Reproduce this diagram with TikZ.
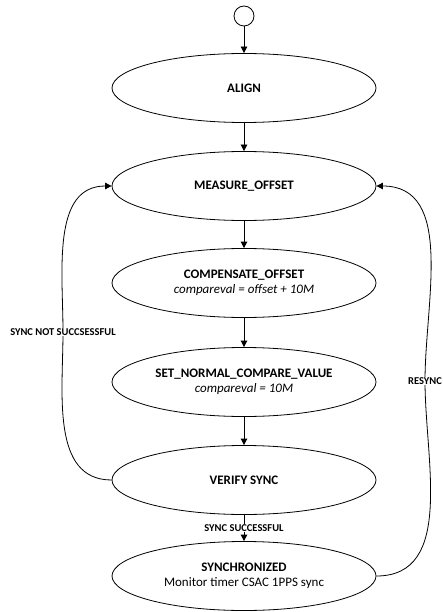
\documentclass[tikz,border=0pt]{standalone}
\usepackage{fontspec}
\setmainfont{Carlito}
\usetikzlibrary{shapes.geometric,arrows.meta}
\begin{document}
\begin{tikzpicture}[x=1pt,y=-1pt,
  state/.style={draw,line width=0.8pt,ellipse,minimum width=264pt,minimum height=69pt,
    inner sep=0pt,align=center,font=\fontsize{13}{15.5}\selectfont},
  flow/.style={draw,line width=0.8pt,-{Triangle[length=6.5pt,width=6.5pt]}},
  edgelabel/.style={fill=white,inner sep=1pt,font=\fontsize{10.5}{12}\selectfont\bfseries}]
\useasboundingbox (0,0) rectangle (442,612);
\node[draw,line width=0.8pt,circle,minimum size=20pt,inner sep=0pt] (start) at (244,16) {};
\node[state] (align) at (244,88) {\textbf{ALIGN}};
\node[state] (measure) at (244,186) {\textbf{MEASURE\_OFFSET}};
\node[state] (comp) at (244,283) {\textbf{COMPENSATE\_OFFSET}\\\textit{compareval = offset + 10M}};
\node[state] (setnorm) at (244,382) {\textbf{SET\_NORMAL\_COMPARE\_VALUE}\\\textit{compareval = 10M}};
\node[state] (verify) at (244,480) {\textbf{VERIFY SYNC}};
\node[state] (synced) at (244,576) {\textbf{SYNCHRONIZED}\\Monitor timer CSAC 1PPS sync};
\coordinate (lw) at (63,332);
\coordinate (rw) at (425,381);
\draw[flow] (start) -- (align);
\draw[flow] (align) -- (measure);
\draw[flow] (measure) -- (comp);
\draw[flow] (comp) -- (setnorm);
\draw[flow] (setnorm) -- (verify);
\draw[flow] (verify) -- node[edgelabel]{SYNC SUCCESSFUL} (synced);
\draw[flow] (verify.west) to[out=180,in=-90] (lw) to[out=90,in=180] (measure.west);
\draw[flow] (synced.east) to[out=0,in=-90] (rw) to[out=90,in=0] (measure.east);
\node[edgelabel] (lwlabel) at (lw) {SYNC NOT SUCCSESSFUL};
\node[edgelabel] (rwlabel) at (rw) {RESYNC};
\end{tikzpicture}
\end{document}
